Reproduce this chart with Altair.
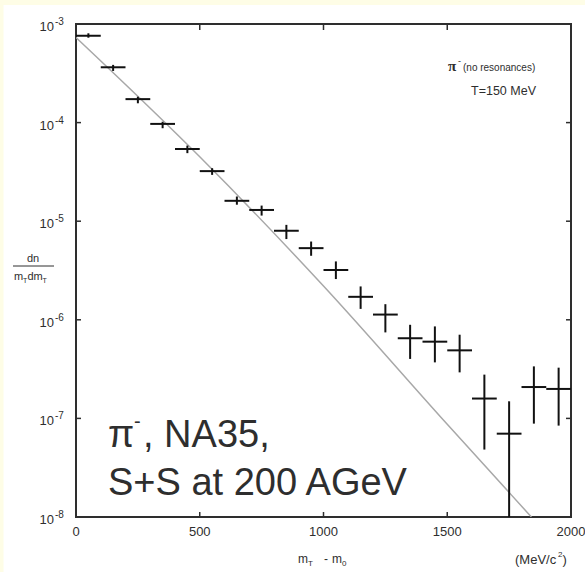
import altair as alt
import pandas as pd

# ---- data ----
bin_center = [50, 150, 250, 350, 450, 550, 650, 750, 850, 950,
              1050, 1150, 1250, 1350, 1450, 1550, 1650, 1750, 1850, 1950]
bin_half = 50
dn_val = [7.6e-4, 3.64e-4, 1.73e-4, 9.7e-5, 5.4e-5, 3.22e-5, 1.61e-5, 1.30e-5, 8.0e-6, 5.33e-6,
          3.2e-6, 1.71e-6, 1.13e-6, 6.5e-7, 6.0e-7, 4.9e-7, 1.59e-7, 7.0e-8, 2.08e-7, 1.99e-7]
dn_hi = [8.05e-4, 3.85e-4, 1.83e-4, 1.02e-4, 5.85e-5, 3.45e-5, 1.78e-5, 1.44e-5, 9.18e-6, 6.22e-6,
         3.91e-6, 2.18e-6, 1.44e-6, 8.9e-7, 8.57e-7, 7.06e-7, 2.78e-7, 1.49e-7, 3.37e-7, 3.27e-7]
dn_lo = [7.26e-4, 3.34e-4, 1.57e-4, 8.77e-5, 4.9e-5, 2.95e-5, 1.47e-5, 1.14e-5, 6.59e-6, 4.46e-6,
         2.59e-6, 1.29e-6, 7.45e-7, 4.01e-7, 3.70e-7, 2.93e-7, 4.83e-8, 1.0e-8, 8.85e-8, 8.45e-8]

fit_x = [0, 500, 1000, 1500, 1840]
fit_y = [7.3e-4, 4.5e-5, 2.2e-6, 8.7e-8, 1.0e-8]

x_ticks = [500, 1000, 1500]
x_tick_labels = [0, 500, 1000, 1500, 2000]
y_ticks = [1e-7, 1e-6, 1e-5, 1e-4]
y_label_vals = [1e-3, 1e-4, 1e-5, 1e-6, 1e-7, 1e-8]
y_label_exps = ["-3", "-4", "-5", "-6", "-7", "-8"]

W, H = 495, 493
FONT = "Liberation Sans"
INK = "#2e2e2e"

xs = alt.Scale(domain=[0, 2000], nice=False, zero=False)
ys = alt.Scale(type="log", domain=[1e-8, 1e-3], nice=False)

df = pd.DataFrame({
    "x": bin_center,
    "xl": [c - bin_half for c in bin_center],
    "xr": [c + bin_half for c in bin_center],
    "y": dn_val, "lo": dn_lo, "hi": dn_hi,
})
fit = pd.DataFrame({"x": fit_x, "y": fit_y})


def label(text, x, y, size=12, align="left", baseline="alphabetic",
          font=FONT, color=INK, weight="normal"):
    return alt.Chart(pd.DataFrame({"t": [text]})).mark_text(
        align=align, baseline=baseline, fontSize=size, font=font,
        color=color, fontWeight=weight
    ).encode(x=alt.value(x), y=alt.value(y), text="t:N")


def strip(x0, x1, y0, y1):
    return alt.Chart(pd.DataFrame({"a": [0]})).mark_rect(
        color="#FEFDE6", clip=False
    ).encode(x=alt.value(x0), x2=alt.value(x1), y=alt.value(y0), y2=alt.value(y1))


# yellow border strips
strips = [strip(-76, -72.5, -24, H + 60), strip(-76, W + 20, -24, -19)]

fit_line = alt.Chart(fit).mark_line(color="#a8a8a8", strokeWidth=1.5, clip=True,
                                    interpolate="monotone").encode(
    x=alt.X("x:Q", scale=xs, axis=None),
    y=alt.Y("y:Q", scale=ys, axis=None),
)

hbars = alt.Chart(df).mark_rule(color="#111111", strokeWidth=2, clip=True).encode(
    x=alt.X("xl:Q", scale=xs, axis=None), x2="xr:Q",
    y=alt.Y("y:Q", scale=ys, axis=None),
)
vbars = alt.Chart(df).mark_rule(color="#111111", strokeWidth=2, clip=True).encode(
    x=alt.X("x:Q", scale=xs, axis=None),
    y=alt.Y("lo:Q", scale=ys, axis=None), y2="hi:Q",
)

# inward ticks
xt = pd.DataFrame({"v": x_ticks})
yt = pd.DataFrame({"v": y_ticks})
tick_style = dict(color=INK, strokeWidth=1.5)
top_ticks = alt.Chart(xt).mark_rule(**tick_style).encode(
    x=alt.X("v:Q", scale=xs, axis=None), y=alt.value(0), y2=alt.value(6))
bot_ticks = alt.Chart(xt).mark_rule(**tick_style).encode(
    x=alt.X("v:Q", scale=xs, axis=None), y=alt.value(H), y2=alt.value(H - 5))
left_ticks = alt.Chart(yt).mark_rule(**tick_style).encode(
    y=alt.Y("v:Q", scale=ys, axis=None), x=alt.value(0), x2=alt.value(5))
right_ticks = alt.Chart(yt).mark_rule(**tick_style).encode(
    y=alt.Y("v:Q", scale=ys, axis=None), x=alt.value(W), x2=alt.value(W - 5))

# tick labels
xl = pd.DataFrame({"v": x_tick_labels, "t": [str(v) for v in x_tick_labels]})
x_labels = alt.Chart(xl).mark_text(fontSize=13, font=FONT, color=INK, align="center",
                                   baseline="alphabetic").encode(
    x=alt.X("v:Q", scale=xs, axis=None), y=alt.value(H + 19), text="t:N")

yl = pd.DataFrame({"v": y_label_vals, "e": y_label_exps})
y_labels10 = alt.Chart(yl).mark_text(fontSize=13, font=FONT, color=INK, align="right",
                                     baseline="middle", dy=3).encode(
    y=alt.Y("v:Q", scale=ys, axis=None), x=alt.value(-22), text=alt.value("10"))
y_labels_exp = alt.Chart(yl).mark_text(fontSize=10, font=FONT, color=INK, align="left",
                                       baseline="middle", dy=-2).encode(
    y=alt.Y("v:Q", scale=ys, axis=None), x=alt.value(-21), text="e:N")

# y-axis title as fraction
frac_bar = alt.Chart(pd.DataFrame({"a": [0]})).mark_rule(color=INK, strokeWidth=1).encode(
    x=alt.value(-63), x2=alt.value(-22), y=alt.value(242))
ytitle = [
    label("dn", -43, 238, size=11, align="center"),
    frac_bar,
    label("m", -62, 256, size=11),
    label("T", -53, 259, size=7),
    label("dm", -48.5, 256, size=11),
    label("T", -33.5, 259, size=7),
]

# x-axis title
xtitle = [
    label("m", 222, 539, size=12),
    label("T", 232, 542, size=8),
    label("-", 250, 539, size=12, align="center"),
    label("m", 256, 539, size=12),
    label("0", 266, 542, size=8),
    label("(MeV/c", 439, 540, size=13),
    label("2", 482, 533, size=8),
    label(")", 486.5, 540, size=13),
]

# annotations
notes = [
    label("π", 372, 47, size=15, font="Liberation Serif", weight="bold"),
    label("-", 382, 40, size=9),
    label("(no resonances)", 387, 47, size=10),
    label("T=150 MeV", 460, 71, size=12.5, align="right"),
    label("π", 32, 422.7, size=38),
    label("-", 58, 404, size=20),
    label(", NA35,", 67, 422.7, size=38),
    label("S+S at 200 AGeV", 32, 471, size=38),
]

chart = alt.layer(
    *strips, fit_line, hbars, vbars,
    top_ticks, bot_ticks, left_ticks, right_ticks,
    x_labels, y_labels10, y_labels_exp,
    *ytitle, *xtitle, *notes,
).properties(
    width=W, height=H,
    autosize=alt.AutoSizeParams(type="none"),
    padding={"left": 76, "top": 24, "right": 14, "bottom": 55},
    background="white",
).configure_view(
    stroke=INK, strokeWidth=2
)

chart.save("out.html", embed_options={"renderer": "svg", "actions": False})
